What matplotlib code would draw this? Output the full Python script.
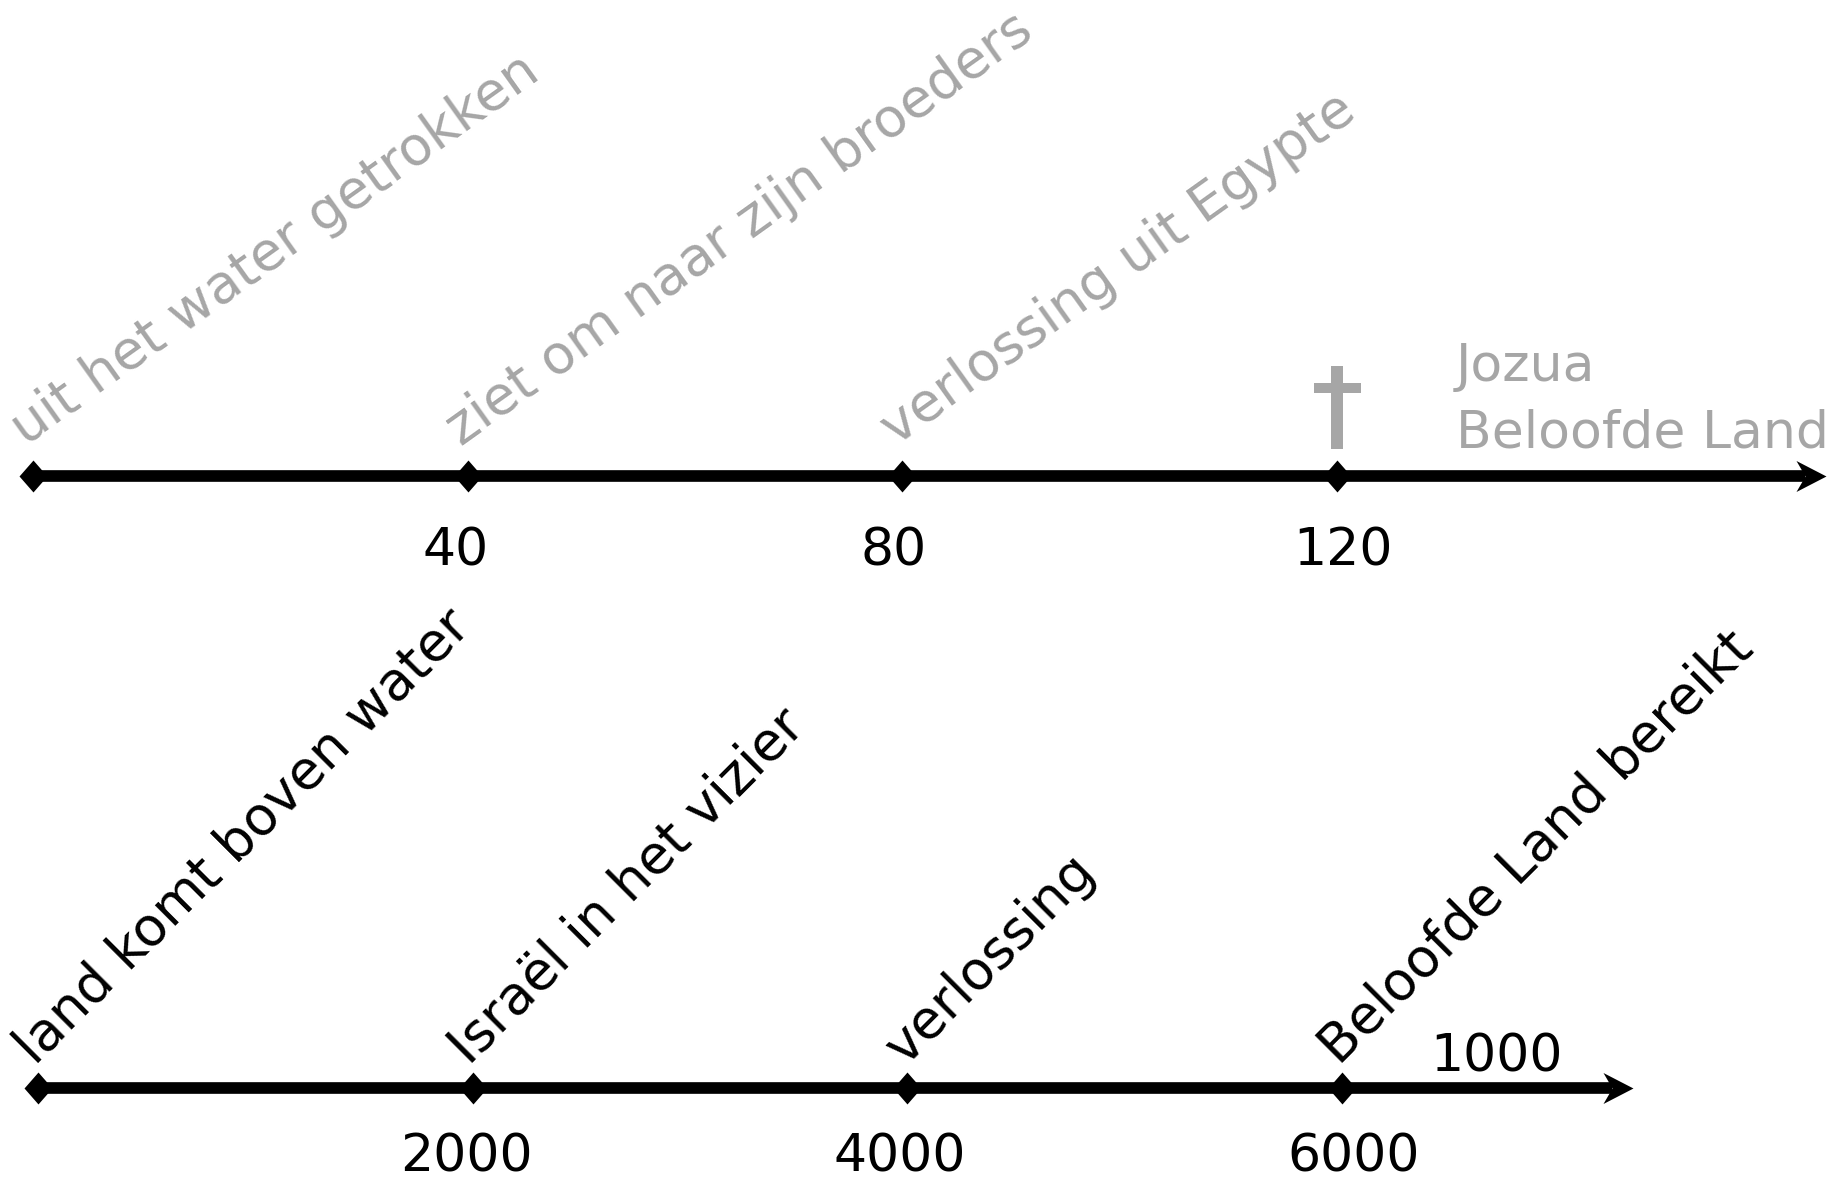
import matplotlib.pyplot as plt
from matplotlib.path import Path

# Moses' life, in years
moses_years = [0, 40, 80, 120]
moses_ticks = ["", "40", "80", "120"]
moses_events = ["uit het water getrokken", "ziet om naar zijn broeders",
                "verlossing uit Egypte", ""]
moses_death = 120
moses_after = ["Jozua", "Beloofde Land"]
moses_end = 165

# history of the world, in years
world_years = [0, 2000, 4000, 6000]
world_ticks = ["", "2000", "4000", "6000"]
world_events = ["land komt boven water", "Israël in het vizier",
                "verlossing", "Beloofde Land bereikt"]
world_after = "1000"
world_end = 7340

W, H = 1836, 1181
GRAY = "#a6a6a6"
PT = 0.72  # points per pixel at dpi 100

# small horizontal nudges (px) of the tick labels, as in the drawing
top_nudge = [0, -12, -9, 6]
bot_nudge = [0, -6, -8, 12]

DIAMOND = Path([(0, 1), (0.875, 0), (0, -1), (-0.875, 0), (0, 1)], closed=True)
ARROW = Path([(0, 0), (-30, 15.5), (-21, 0), (-30, -15.5), (0, 0)], closed=True)
CROSS = Path([(-6, 41.5), (6, 41.5), (6, 24.5), (23.5, 24.5), (23.5, 14.5),
              (6, 14.5), (6, -41.5), (-6, -41.5), (-6, 14.5), (-23.5, 14.5),
              (-23.5, 24.5), (-6, 24.5), (-6, 41.5)], closed=True)

fig = plt.figure(figsize=(W / 100, H / 100), dpi=100)


def timeline_axes(px_zero, px_per_unit):
    ax = fig.add_axes([0, 0, 1, 1])
    ax.set_xlim(-px_zero / px_per_unit, (W - px_zero) / px_per_unit)
    ax.set_ylim(H, 0)
    ax.axis("off")
    ax.patch.set_alpha(0)
    return ax


def draw_timeline(ax, years, ticks, nudge, events, end, line_y, label_y, ppu,
                  ev_color, ev_size, ev_angle, ev_offset):
    ax.plot([years[0], end - 21 / ppu], [line_y, line_y], color="black",
            lw=8.4, solid_capstyle="butt")
    ax.plot(years, [line_y] * len(years), ls="none", marker=DIAMOND, ms=23,
            color="black", mew=0)
    ax.plot([end], [line_y], marker=ARROW, ms=60 * PT, color="black", mew=0)
    for yr, lab, dx in zip(years, ticks, nudge):
        ax.text(yr + dx / ppu, label_y, lab, ha="center", va="baseline",
                fontsize=37.5)
    for yr, ev in zip(years, events):
        ax.annotate(ev, xy=(yr, line_y), xytext=ev_offset,
                    textcoords="offset points", rotation=ev_angle,
                    rotation_mode="anchor", ha="left", va="baseline",
                    fontsize=ev_size, color=ev_color)


# top: Moses
top_ppu = 10.867
ax1 = timeline_axes(33, top_ppu)
draw_timeline(ax1, moses_years, moses_ticks, top_nudge, moses_events,
              moses_end, 476, 566, top_ppu, GRAY, 38.8, 35.5,
              (-7 * PT, 30 * PT))
ax1.plot([moses_death], [406.5], marker=CROSS, ms=83 * PT, color=GRAY, mew=0)
for lab, dy in zip(moses_after, [476 - 381, 476 - 448]):
    ax1.annotate(lab, xy=(moses_death, 476), xytext=(119 * PT, dy * PT),
                 textcoords="offset points", ha="left", va="baseline",
                 fontsize=37.5, color=GRAY)

# bottom: the world
bot_ppu = 0.21733
ax2 = timeline_axes(38, bot_ppu)
draw_timeline(ax2, world_years, world_ticks, bot_nudge, world_events,
              world_end, 1088, 1171, bot_ppu, "black", 38.5, 45,
              (-3 * PT, 22 * PT))
ax2.annotate(world_after, xy=(world_years[-1], 1088), xytext=(155 * PT, 17 * PT),
             textcoords="offset points", ha="center", va="baseline",
             fontsize=37.5)

fig.savefig("out.png", dpi=100)
